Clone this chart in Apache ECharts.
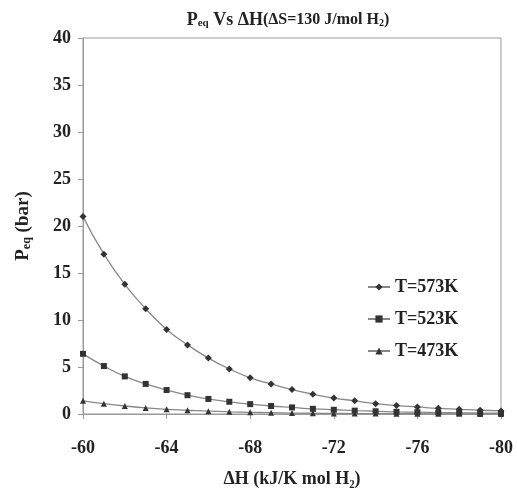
<!DOCTYPE html>
<html><head><meta charset="utf-8">
<script src="https://cdn.jsdelivr.net/npm/echarts@6/dist/echarts.min.js"></script>
<style>html,body{margin:0;padding:0;background:#fff}#c{width:517px;height:489px}</style>
</head><body><div id="c"></div>
<script>
const dH = [-60,-61,-62,-63,-64,-65,-66,-67,-68,-69,-70,-71,-72,-73,-74,-75,-76,-77,-78,-79,-80];
const p573 = [21.0,17.0,13.8,11.2,9.0,7.35,5.95,4.8,3.85,3.2,2.6,2.1,1.7,1.4,1.1,0.9,0.75,0.6,0.5,0.4,0.33];
const p523 = [6.4,5.1,4.0,3.2,2.55,2.0,1.6,1.3,1.05,0.85,0.7,0.55,0.45,0.36,0.29,0.23,0.19,0.15,0.12,0.1,0.08];
const p473 = [1.4,1.1,0.85,0.65,0.5,0.4,0.3,0.23,0.18,0.14,0.1,0.08,0.06,0.05,0.04,0.03,0.025,0.02,0.015,0.012,0.01];
const names = ['T=573K','T=523K','T=473K'];
const symbols = ['diamond','rect','triangle'];
const font = 'Liberation Serif';
const pair = arr => dH.map((x,i)=>[x,arr[i]]);
const chart = echarts.init(document.getElementById('c'));
chart.setOption({
  animation:false,
  title:{text:'{a|P}{s|eq}{a| Vs ΔH}{b|(ΔS=130 J/mol H}{bs|2}{b|)}',left:283,top:6,textAlign:'center',
    textStyle:{rich:{a:{fontFamily:font,fontWeight:'bold',fontSize:18,color:'#222'},
      s:{fontFamily:font,fontWeight:'bold',fontSize:11,color:'#222',padding:[7,0,0,0]},
      b:{fontFamily:font,fontWeight:'bold',fontSize:16,color:'#222'},
      bs:{fontFamily:font,fontWeight:'bold',fontSize:10,color:'#222',padding:[7,0,0,0]}}}},
  grid:{left:83,right:16,top:38,bottom:75,show:true,borderColor:'#999',borderWidth:1,outerBoundsMode:'none',containLabel:false},
  legend:{left:362,top:273,orient:'vertical',itemGap:14,itemWidth:22,itemHeight:9,
    data:names,textStyle:{fontFamily:font,fontWeight:'bold',fontSize:18,color:'#222'}},
  xAxis:{type:'value',min:-80,max:-60,interval:4,inverse:true,
    name:'ΔH (kJ/K mol H₂)',nameLocation:'middle',nameGap:56,
    nameTextStyle:{fontFamily:font,fontWeight:'bold',fontSize:18,color:'#222'},
    axisLine:{lineStyle:{color:'#999'}},axisTick:{length:5,lineStyle:{color:'#999'}},
    axisLabel:{fontFamily:font,fontWeight:'bold',fontSize:18,color:'#222',margin:25},
    splitLine:{show:false}},
  yAxis:{type:'value',min:0,max:40,interval:5,
    name:'{a|P}{s|eq}{a| (bar)}',nameLocation:'middle',nameGap:50,
    nameTextStyle:{rich:{a:{fontFamily:font,fontWeight:'bold',fontSize:19,color:'#222'},
      s:{fontFamily:font,fontWeight:'bold',fontSize:12,color:'#222',padding:[8,0,0,0]}}},
    axisLine:{show:true,lineStyle:{color:'#999'}},axisTick:{show:true,length:5,lineStyle:{color:'#999'}},
    axisLabel:{fontFamily:font,fontWeight:'bold',fontSize:18,color:'#222',margin:12},
    splitLine:{show:false}},
  series:[p573,p523,p473].map((arr,i)=>({
    name:names[i],type:'line',smooth:true,data:pair(arr),
    symbol:symbols[i],symbolSize:i===0?7:6,showSymbol:true,
    lineStyle:{color:'#888',width:1.3},
    itemStyle:{color:'#333'}
  }))
});
</script></body></html>
